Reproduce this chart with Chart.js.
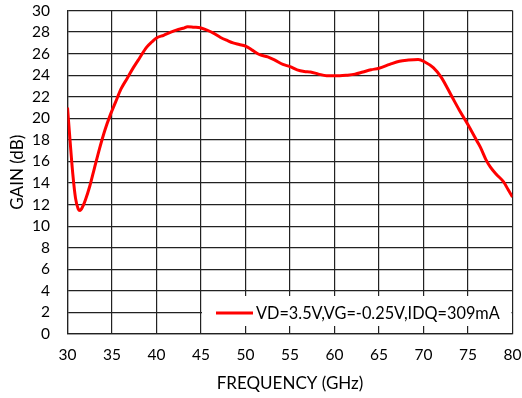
<!DOCTYPE html>
<html>
<head>
<meta charset="utf-8">
<script src="https://cdn.jsdelivr.net/npm/chart.js@4"></script>
<style>
  html, body { margin: 0; padding: 0; background: #fff; }
  #wrap { width: 522px; height: 398px; }
</style>
</head>
<body>
<div id="wrap"><canvas id="gain"></canvas></div>
<script>
// values
const freq = [30.0, 30.3, 30.6, 30.9, 31.2, 31.4, 31.7, 32.0, 32.5, 33.0, 33.6, 34.2, 34.8, 35.4, 36.0,
  36.7, 37.4, 38.1, 38.9, 39.5, 40.0, 40.8, 41.5, 42.3, 43.0, 43.5, 44.2, 44.9, 45.6, 46.4, 47.2,
  48.0, 48.6, 49.3, 50.0, 50.8, 51.6, 52.5, 53.3, 54.2, 55.0, 55.8, 56.6, 57.3, 58.2, 59.1, 60.0,
  60.6, 61.4, 62.3, 63.2, 64.1, 65.0, 66.2, 67.3, 68.3, 69.4, 70.2, 71.1, 72.0, 73.2, 74.0, 75.0,
  76.0, 76.4, 77.0, 77.5, 78.2, 79.0, 79.5, 80.0];
const gain = [21.0, 17.8, 14.8, 12.6, 11.6, 11.45, 11.8, 12.4, 13.7, 15.3, 17.2, 18.9, 20.3, 21.5, 22.7,
  23.7, 24.7, 25.6, 26.6, 27.1, 27.45, 27.7, 27.95, 28.2, 28.35, 28.5, 28.45, 28.4, 28.2, 27.9, 27.5,
  27.2, 27.0, 26.85, 26.7, 26.3, 25.9, 25.7, 25.4, 25.0, 24.8, 24.5, 24.35, 24.3, 24.1, 23.95, 23.95,
  23.95, 24.0, 24.1, 24.3, 24.5, 24.65, 25.0, 25.3, 25.4, 25.45, 25.2, 24.7, 23.8, 22.0, 20.8, 19.4,
  17.9, 17.3, 16.2, 15.5, 14.8, 14.1, 13.4, 12.7];
const seriesLabel = 'VD=3.5V,VG=-0.25V,IDQ=309mA';
const xTitle = 'FREQUENCY (GHz)';
const yTitle = 'GAIN (dB)';

const FONT = 'Lato';

// legend box sits inside the plot, bottom right
const boxLegend = {
  id: 'boxLegend',
  afterDatasetsDraw(chart) {
    const ctx = chart.ctx;
    const area = chart.chartArea;
    const ds = chart.data.datasets[0];
    const x0 = 202, x1 = area.right - 1;
    const y0 = 296, y1 = 326;
    ctx.save();
    ctx.fillStyle = '#fff';
    ctx.fillRect(x0, y0, x1 - x0, y1 - y0);
    const cy = 313;
    ctx.strokeStyle = ds.borderColor;
    ctx.lineWidth = 3;
    ctx.beginPath();
    ctx.moveTo(216, cy);
    ctx.lineTo(253, cy);
    ctx.stroke();
    ctx.fillStyle = '#000';
    ctx.font = '16.3px ' + FONT;
    ctx.textBaseline = 'middle';
    ctx.fillText(ds.label, 256, cy + 1);
    ctx.restore();
  }
};

new Chart(document.getElementById('gain'), {
  type: 'line',
  data: {
    datasets: [{
      label: seriesLabel,
      data: freq.map((f, i) => ({ x: f, y: gain[i] })),
      borderColor: '#ff0000',
      borderWidth: 3,
      pointRadius: 0,
      cubicInterpolationMode: 'monotone',
      fill: false
    }]
  },
  options: {
    responsive: true,
    maintainAspectRatio: false,
    animation: false,
    layout: { padding: 0 },
    plugins: {
      legend: { display: false },
      tooltip: { enabled: false }
    },
    scales: {
      x: {
        type: 'linear',
        min: 30,
        max: 80,
        afterFit(scale) {
          scale.height = 64;
          scale.paddingLeft = 0;
          scale.paddingRight = 9.5;
        },
        ticks: { stepSize: 5, autoSkip: false, maxRotation: 0, padding: 12, color: '#000', font: { family: FONT, size: 15.5 } },
        grid: { color: '#222', lineWidth: 1.2, drawTicks: false },
        border: { color: '#222', width: 1.2 },
        title: { display: true, text: xTitle, color: '#000', padding: { top: 0, bottom: 4 }, font: { family: FONT, size: 17 } }
      },
      y: {
        min: 0,
        max: 30,
        afterFit(scale) {
          scale.width = 67.5;
          scale.paddingTop = 10.5;
          scale.paddingBottom = 0;
        },
        ticks: { stepSize: 2, autoSkip: false, padding: 17.5, color: '#000', font: { family: FONT, size: 15.5 } },
        grid: { color: '#222', lineWidth: 1.2, drawTicks: false },
        border: { color: '#222', width: 1.2 },
        title: { display: true, text: yTitle, color: '#000', padding: { top: 7, bottom: 0 }, font: { family: FONT, size: 17 } }
      }
    }
  },
  plugins: [boxLegend]
});
</script>
</body>
</html>
